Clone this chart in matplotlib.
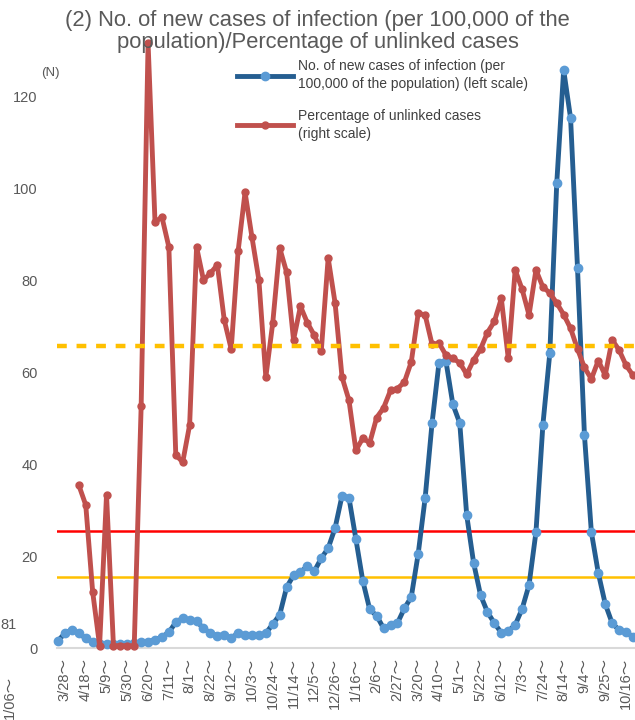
"""Weekly new infections per 100,000 and share of unlinked cases."""

import matplotlib
matplotlib.use("Agg")
import matplotlib.pyplot as plt
import numpy as np

# weekly points, first week starts 3/21 (unlabelled), labels every 3 weeks
new_cases = [
    1.6, 3.2, 4.0, 3.2, 2.1, 1.3, 0.9, 0.9, 0.8, 0.8,
    0.8, 1.0, 1.3, 1.4, 1.8, 2.4, 3.4, 5.6, 6.5, 6.0,
    5.8, 4.3, 3.2, 2.7, 2.9, 2.2, 3.2, 2.9, 2.9, 2.8,
    3.2, 5.2, 7.2, 13.2, 15.8, 16.5, 17.8, 16.7, 19.5, 21.7,
    26.1, 33.1, 32.7, 23.7, 14.6, 8.4, 7.0, 4.3, 4.9, 5.4,
    8.6, 11.1, 20.5, 32.6, 48.9, 62.0, 62.4, 53.0, 48.9, 28.9,
    18.5, 11.5, 7.8, 5.4, 3.3, 3.7, 5.0, 8.5, 13.7, 25.2,
    48.5, 64.1, 101.0, 125.7, 115.2, 82.6, 46.3, 25.2, 16.3, 9.6,
    5.4, 3.9, 3.5, 2.4,
]
unlinked_pct = [
    np.nan, np.nan, np.nan, 35.4, 31.1, 12.2, 0.5, 33.3, 0.5, 0.5,
    0.5, 0.5, 52.6, 131.5, 92.6, 93.7, 87.2, 42.0, 40.4, 48.5,
    87.2, 80.0, 81.5, 83.3, 71.3, 65.0, 86.3, 99.1, 89.3, 80.0,
    58.9, 70.7, 87.0, 81.7, 67.0, 74.3, 70.7, 68.0, 64.5, 84.8,
    75.0, 58.9, 53.9, 43.0, 45.6, 44.6, 50.1, 52.2, 56.0, 56.4,
    57.8, 62.2, 72.8, 72.4, 66.0, 66.3, 63.7, 63.0, 62.0, 59.5,
    62.6, 65.0, 68.6, 71.0, 76.0, 63.0, 82.2, 78.0, 72.4, 82.2,
    78.5, 77.2, 75.0, 72.5, 69.5, 65.0, 61.0, 58.5, 62.5, 59.3,
    67.0, 64.8, 61.5, 59.3,
]
tick_labels = [
    "3/28", "4/18", "5/9", "5/30", "6/20", "7/11", "8/1", "8/22", "9/12",
    "10/3", "10/24", "11/14", "12/5", "12/26", "1/16", "2/6", "2/27",
    "3/20", "4/10", "5/1", "5/22", "6/12", "7/3", "7/24", "8/14", "9/4",
    "9/25", "10/16",
]
# reference levels (left scale)
ref_dashed = 65.7
ref_red = 25.4
ref_yellow = 15.4

FONT = ["Liberation Sans", "Noto Sans CJK JP", "DejaVu Sans"]
plt.rcParams["font.family"] = FONT
GRAY = "#595959"

x = np.arange(len(new_cases))
tick_pos = np.arange(1, len(new_cases), 3)[: len(tick_labels)]

fig = plt.figure(figsize=(6.35, 7.2), dpi=100)
ax = fig.add_axes([57 / 635, 0.1, 578 / 635, 608 / 720])
ax2 = ax.twinx()

ax.axhline(ref_red, color="#FF0000", lw=1.8, zorder=1)
ax.axhline(ref_yellow, color="#FFC000", lw=1.8, zorder=1)

l1, = ax.plot(x, new_cases, color="#255E91", lw=3.5, marker="o", ms=6,
              mfc="#5B9BD5", mec="#5B9BD5", zorder=3, clip_on=False,
              label="No. of new cases of infection (per\n100,000 of the population) (left scale)")
l2, = ax2.plot(x, unlinked_pct, color="#C0504D", lw=3.5, marker="o", ms=5,
               mfc="#C0504D", mec="#C0504D", zorder=3, clip_on=False,
               label="Percentage of unlinked cases\n(right scale)")
ax2.axhline(ref_dashed, color="#FFC000", lw=3.2, ls=(0, (2.2, 2.2)), zorder=4)

for a in (ax, ax2):
    a.set_xlim(-0.15, 83.3)
    a.set_ylim(0, 132.2)
    for s in a.spines.values():
        s.set_visible(False)
ax.spines["bottom"].set_visible(True)
ax.spines["bottom"].set_color("#D9D9D9")
ax.spines["bottom"].set_linewidth(1.5)
ax2.set_yticks([])

ax.set_yticks(np.arange(0, 121, 20))
ax.tick_params(axis="y", length=0, pad=14, labelsize=10.5, labelcolor=GRAY)
ax.set_xticks(tick_pos)
ax.set_xticklabels([t + "～" for t in tick_labels], rotation=90, fontsize=10.5,
                   color=GRAY)
ax.tick_params(axis="x", length=0, pad=7)

leg = ax2.legend(handles=[l1, l2], loc="upper left", frameon=False,
                 bbox_to_anchor=(237 / 635, 1 - 59 / 720),
                 bbox_transform=fig.transFigure,
                 fontsize=10, handlelength=4.0, handletextpad=0.4,
                 labelspacing=1.3, borderpad=0, borderaxespad=0, numpoints=1,
                 labelcolor="#404040")
for t in leg.get_texts():
    t.set_linespacing(1.35)

fig.text(0.5, 1 - 10 / 720,
         "(2) No. of new cases of infection (per 100,000 of the\npopulation)/Percentage of unlinked cases",
         ha="center", va="top", fontsize=15.8, color=GRAY, linespacing=1.08)
fig.text(50 / 635, 1 - 73 / 720, "(N)", ha="center", va="center", fontsize=9.5, color=GRAY)

# fragments of the neighbouring chart at the left edge
fig.text(0, 1 - 625 / 720, "81", ha="left", va="center", fontsize=10.5, color=GRAY)
fig.text(10 / 635, 1 - 676 / 720, "1/06～", rotation=90, ha="center", va="top",
         fontsize=10.5, color=GRAY)

fig.savefig("out.png", dpi=100)
